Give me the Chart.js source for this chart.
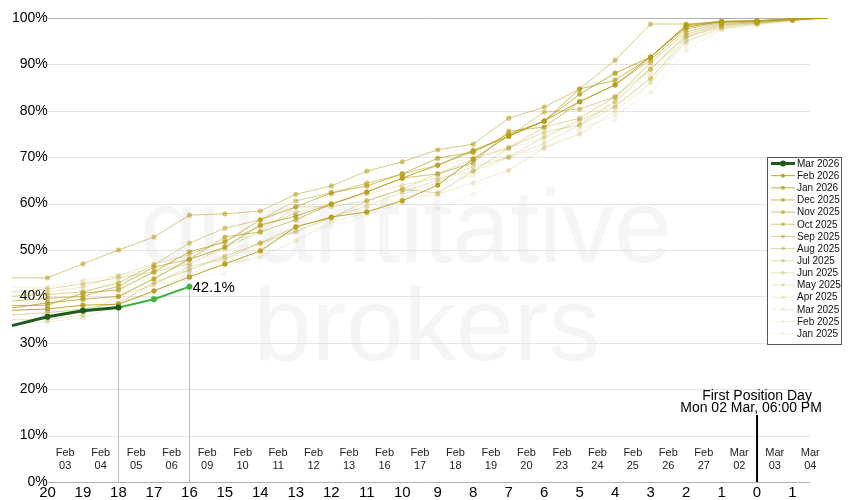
<!DOCTYPE html>
<html>
<head>
<meta charset="utf-8">
<script src="https://cdn.jsdelivr.net/npm/chart.js@4.4.1/dist/chart.umd.min.js"></script>
<style>
    html, body { margin: 0; padding: 0; background: #fff; }
    #wrap { width: 850px; height: 500px; position: relative; }
</style>
</head>
<body>
<div id="wrap"><canvas id="fpChart"></canvas></div>
<script>
    // days to first position day (index 0 and 23 are the plot edges)
    const dayLabels = ['', '20', '19', '18', '17', '16', '15', '14', '13', '12', '11', '10',
        '9', '8', '7', '6', '5', '4', '3', '2', '1', '0', '1', ''];
    // calendar dates shown between day ticks
    const dateLabels = ['Feb 03', 'Feb 04', 'Feb 05', 'Feb 06', 'Feb 09', 'Feb 10', 'Feb 11',
        'Feb 12', 'Feb 13', 'Feb 16', 'Feb 17', 'Feb 18', 'Feb 19', 'Feb 20', 'Feb 23', 'Feb 24',
        'Feb 25', 'Feb 26', 'Feb 27', 'Mar 02', 'Mar 03', 'Mar 04'];
    const yTicks = [0, 10, 20, 30, 40, 50, 60, 70, 80, 90, 100];

    const seriesNames = ['Mar 2026', 'Feb 2026', 'Jan 2026', 'Dec 2025', 'Nov 2025', 'Oct 2025',
        'Sep 2025', 'Aug 2025', 'Jul 2025', 'Jun 2025', 'May 2025', 'Apr 2025', 'Mar 2025',
        'Feb 2025', 'Jan 2025'];

    // % of open interest rolled
    const mar26 = [33.7, 35.6, 36.9, 37.6, 39.4, 42.1, null, null, null, null, null, null,
        null, null, null, null, null, null, null, null, null, null, null, null];
    const feb26 = [37.0, 37.3, 38.1, 38.3, 41.2, 44.2, 47.0, 49.8, 55.0, 57.1, 58.2, 60.6, 64.0, 69.6, 74.6, 77.8, 82.0, 85.6, 91.6, 98.0, 99.2, 99.3, 99.8, 100];
    const jan26 = [37.5, 38.6, 39.4, 40.0, 43.8, 48.0, 50.6, 55.4, 57.3, 59.9, 62.5, 65.5, 68.3, 71.5, 74.5, 77.8, 83.6, 88.1, 91.6, 98.5, 99.3, 99.4, 99.8, 100];
    const dec25 = [38.0, 38.1, 40.7, 41.4, 45.3, 49.6, 51.7, 56.5, 59.3, 62.3, 63.8, 66.4, 69.8, 71.1, 75.0, 77.8, 84.7, 86.6, 91.6, 98.3, 99.2, 99.4, 99.8, 100];
    const nov25 = [39.0, 39.6, 40.0, 42.2, 46.3, 48.0, 52.8, 53.9, 56.5, 59.9, 62.5, 65.5, 66.4, 68.8, 75.6, 76.5, 81.9, 85.6, 91.0, 97.6, 99.0, 99.3, 99.8, 100];
    const oct25 = [44.0, 44.0, 47.0, 50.0, 52.8, 57.5, 57.8, 58.4, 62.0, 63.8, 67.0, 69.0, 71.6, 72.8, 78.4, 80.8, 84.7, 90.9, 98.7, 98.7, 99.2, 99.4, 99.8, 100];
    const sep25 = [40.0, 40.4, 41.0, 42.9, 46.8, 51.5, 54.7, 56.5, 60.6, 62.3, 64.4, 66.4, 68.3, 71.1, 74.5, 79.7, 80.4, 83.0, 90.3, 97.0, 98.8, 99.2, 99.7, 100];
    const aug25 = [36.0, 36.5, 37.3, 38.5, 43.0, 45.7, 48.7, 51.5, 55.0, 56.9, 60.6, 63.1, 62.3, 67.0, 72.0, 76.5, 78.4, 83.0, 89.0, 96.5, 98.6, 99.0, 99.6, 100];
    const jul25 = [41.0, 41.6, 42.7, 44.0, 45.3, 47.0, 50.6, 53.9, 59.3, 59.3, 60.6, 63.1, 66.4, 69.6, 72.0, 75.4, 77.0, 82.0, 89.0, 96.0, 98.5, 99.0, 99.6, 100];
    const jun25 = [35.0, 35.0, 36.0, 40.0, 42.5, 46.5, 48.0, 51.5, 54.0, 57.0, 59.5, 62.5, 65.0, 68.0, 70.0, 74.4, 78.0, 81.0, 87.0, 95.7, 98.3, 98.9, 99.6, 100];
    const may25 = [40.0, 41.0, 42.0, 44.5, 47.0, 49.0, 52.0, 55.0, 58.0, 60.0, 62.0, 64.0, 65.5, 67.0, 70.0, 73.0, 76.9, 80.8, 87.0, 95.0, 98.0, 98.8, 99.5, 100];
    const apr25 = [34.0, 34.5, 35.4, 38.0, 41.0, 45.0, 46.8, 48.5, 52.0, 56.0, 58.0, 61.0, 62.0, 64.5, 67.2, 72.0, 75.0, 80.0, 86.0, 94.8, 97.8, 98.7, 99.5, 100];
    const mar25 = [42.0, 42.0, 43.5, 44.5, 46.0, 49.0, 52.0, 55.0, 58.0, 62.0, 64.4, 66.0, 68.0, 70.0, 72.0, 74.0, 78.0, 82.0, 88.0, 96.0, 98.0, 98.8, 99.5, 100];
    const feb25 = [38.0, 39.0, 41.0, 43.0, 45.0, 48.0, 50.0, 51.5, 54.0, 57.0, 59.0, 62.0, 64.5, 66.0, 70.0, 72.0, 76.0, 79.0, 84.0, 93.0, 97.5, 98.5, 99.4, 100];
    const jan25 = [36.0, 36.5, 37.0, 39.0, 40.0, 44.0, 45.0, 51.5, 54.0, 55.0, 57.5, 60.0, 59.0, 62.0, 67.0, 72.0, 75.0, 78.0, 86.5, 94.0, 97.5, 98.5, 99.4, 100];

    const pastSeries = [feb26, jan26, dec25, nov25, oct25, sep25, aug25, jul25, jun25, may25, apr25, mar25, feb25, jan25];
    const pastAlpha = [0.9, 0.8, 0.7, 0.62, 0.55, 0.48, 0.4, 0.34, 0.28, 0.23, 0.18, 0.14, 0.11, 0.08];

    const FONT = "'Liberation Sans', Arial, sans-serif";
    const darkGreen = '#1d5c1d';
    const brightGreen = '#3cb43c';
    const firstPosIndex = 21;
    const lastIndex = dayLabels.length - 1;

    // no dots on the two plot edges
    const edgeRadius = r => dayLabels.map((d, i) => (i === 0 || i === lastIndex) ? 0 : r);

    const datasets = [{
        label: seriesNames[0],
        data: mar26,
        borderColor: darkGreen,
        borderWidth: 3,
        pointRadius: edgeRadius(3),
        pointBackgroundColor: mar26.map((v, i) => i > 3 ? brightGreen : darkGreen),
        pointBorderWidth: 0,
        segment: {
            borderColor: c => c.p0DataIndex >= 3 ? brightGreen : darkGreen,
            borderWidth: c => c.p0DataIndex >= 3 ? 2 : 3
        }
    }];
    pastSeries.forEach((s, i) => {
        const col = `rgba(181, 156, 25, ${pastAlpha[i]})`;
        datasets.push({
            label: seriesNames[i + 1],
            data: s,
            borderColor: col,
            backgroundColor: col,
            borderWidth: 1,
            pointRadius: edgeRadius(2.6),
            pointBackgroundColor: col,
            pointBorderWidth: 0
        });
    });

    // üî§ faint watermark behind everything
    const watermark = {
        id: 'watermark',
        beforeDraw(chart) {
            const ctx = chart.ctx;
            ctx.save();
            ctx.fillStyle = '#f5f5f5';
            ctx.font = '104px ' + FONT;
            ctx.textAlign = 'center';
            ctx.fillText('quantitative', 406, 262);
            ctx.fillText('brokers', 427, 360);
            ctx.restore();
        }
    };

    // üìè gridlines, date row and marker lines
    const decorations = {
        id: 'decorations',
        beforeDatasetsDraw(chart) {
            const ctx = chart.ctx;
            const x = chart.scales.x, y = chart.scales.y;
            const gx0 = chart.chartArea.left + 36;
            const gx1 = x.getPixelForValue(22.5);
            ctx.save();
            ctx.lineWidth = 1;
            yTicks.forEach(v => {
                const py = Math.round(y.getPixelForValue(v)) + 0.5;
                ctx.strokeStyle = (v === 100 || v === 0) ? '#b0b0b0' : '#e4e4e4';
                ctx.beginPath();
                ctx.moveTo(gx0, py);
                ctx.lineTo(gx1, py);
                ctx.stroke();
            });
            // date labels between the day ticks
            ctx.fillStyle = '#222';
            ctx.font = '11px ' + FONT;
            ctx.textAlign = 'center';
            ctx.textBaseline = 'middle';
            dateLabels.forEach((d, i) => {
                const px = x.getPixelForValue(i + 1.5);
                const parts = d.split(' ');
                ctx.fillText(parts[0], px, 453);
                ctx.fillText(parts[1], px, 466);
            });
            // drop lines from current contract points
            const meta = chart.getDatasetMeta(0);
            const bottom = y.getPixelForValue(0);
            ctx.strokeStyle = '#bdbdbd';
            [3, 5].forEach(i => {
                const p = meta.data[i];
                const px = Math.round(p.x) + 0.5;
                ctx.beginPath();
                ctx.moveTo(px, p.y);
                ctx.lineTo(px, bottom);
                ctx.stroke();
            });
            ctx.restore();
        },
        afterDatasetsDraw(chart) {
            const ctx = chart.ctx;
            const x = chart.scales.x, y = chart.scales.y;
            ctx.save();
            // first position day marker
            const fx = x.getPixelForValue(firstPosIndex);
            ctx.strokeStyle = '#000';
            ctx.lineWidth = 2;
            ctx.beginPath();
            ctx.moveTo(fx, 415);
            ctx.lineTo(fx, y.getPixelForValue(0));
            ctx.stroke();
            ctx.fillStyle = '#000';
            ctx.font = '14px ' + FONT;
            ctx.textAlign = 'center';
            ctx.textBaseline = 'middle';
            ctx.fillText('First Position Day', fx, 396);
            ctx.fillText('Mon 02 Mar, 06:00 PM', fx - 6, 408);
            // last value label
            const meta = chart.getDatasetMeta(0);
            let last = 0;
            mar26.forEach((v, i) => { if (v !== null) last = i; });
            const p = meta.data[last];
            ctx.font = '15px ' + FONT;
            ctx.textAlign = 'left';
            ctx.fillText(mar26[last].toFixed(1) + '%', p.x + 3, p.y + 1);
            ctx.restore();
        }
    };

    // üìã boxed legend on the right
    const boxLegend = {
        id: 'boxLegend',
        afterDraw(chart) {
            const ctx = chart.ctx;
            const bx = 767.5, by = 157.5, bw = 74, bh = 187;
            ctx.save();
            ctx.fillStyle = '#fff';
            ctx.fillRect(bx, by, bw, bh);
            ctx.strokeStyle = '#555';
            ctx.lineWidth = 1;
            ctx.strokeRect(bx, by, bw, bh);
            ctx.font = '10px ' + FONT;
            ctx.textBaseline = 'middle';
            ctx.textAlign = 'left';
            chart.data.datasets.forEach((ds, i) => {
                const ly = 163.5 + i * 12.15;
                const col = i === 0 ? darkGreen : ds.borderColor;
                ctx.strokeStyle = col;
                ctx.lineWidth = i === 0 ? 3 : 1;
                ctx.beginPath();
                ctx.moveTo(771, ly);
                ctx.lineTo(795, ly);
                ctx.stroke();
                ctx.fillStyle = col;
                ctx.beginPath();
                ctx.arc(783, ly, i === 0 ? 3 : 2, 0, Math.PI * 2);
                ctx.fill();
                ctx.fillStyle = '#111';
                ctx.fillText(ds.label, 797, ly + 0.5);
            });
            ctx.restore();
        }
    };

    document.addEventListener('DOMContentLoaded', function () {
        const ctx = document.getElementById('fpChart').getContext('2d');
        new Chart(ctx, {
            type: 'line',
            data: { labels: dayLabels, datasets: datasets },
            options: {
                responsive: true,
                maintainAspectRatio: false,
                animation: false,
                devicePixelRatio: 1,
                layout: { padding: { left: 12, right: 22, top: 18, bottom: -3 } },
                scales: {
                    x: {
                        type: 'category',
                        offset: false,
                        grid: { display: false, drawTicks: false },
                        border: { display: false },
                        ticks: {
                            autoSkip: false, maxRotation: 0, padding: 3,
                            color: '#000', font: { family: FONT, size: 15, lineHeight: 1.0 }
                        }
                    },
                    y: {
                        min: 0, max: 100,
                        grid: { display: false, drawTicks: false },
                        border: { display: false },
                        afterBuildTicks: scale => { scale.ticks = yTicks.map(v => ({ value: v })); },
                        ticks: {
                            mirror: true, crossAlign: 'far', padding: 0,
                            color: '#000', font: { family: FONT, size: 14 },
                            callback: v => v + '%'
                        }
                    }
                },
                plugins: {
                    legend: { display: false },
                    tooltip: { enabled: false }
                }
            },
            plugins: [watermark, decorations, boxLegend]
        });
    });
</script>
</body>
</html>
